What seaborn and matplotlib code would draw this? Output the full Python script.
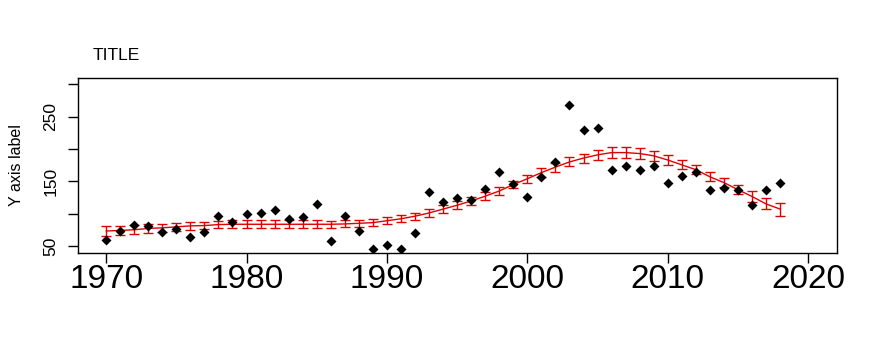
import matplotlib
matplotlib.use("Agg")
import matplotlib.pyplot as plt
import seaborn as sns
import pandas as pd

years = list(range(1970, 2019))

observed = [59, 73, 83, 81, 71, 76, 64, 72, 97, 87,
            100, 101, 106, 92, 94, 115, 58, 97, 73, 45,
            51, 45, 70, 134, 118, 124, 121, 138, 165, 146,
            126, 157, 180, 268, 229, 232, 167, 173, 167, 173,
            148, 159, 164, 136, 139, 136, 113, 136, 148]

fitted = [73, 74, 75, 77, 78, 79.5, 81, 81.5, 83, 83.5,
          83.5, 83.5, 83.5, 83.5, 83.5, 83.5, 83.5, 84, 85, 86,
          89, 92, 96, 101, 107, 113, 119.5, 127, 135, 145,
          154, 163.5, 172, 180, 186, 191, 194.5, 194.5, 193, 189.5,
          183, 175.5, 168, 157, 148, 137, 126.5, 115, 107]

half_width = [8, 7.5, 7, 6.5, 6, 6, 6, 6, 6, 6,
              6, 6, 6, 6, 6, 6, 5.5, 5.5, 5.5, 5.5,
              5.5, 5.5, 5.5, 5.5, 6, 6, 6, 6, 6, 6,
              6.5, 6.5, 7, 7, 7, 7.5, 8, 8, 8, 7.5,
              7, 7, 7, 7, 7, 7, 8, 8.5, 10]

df = pd.DataFrame({"year": years, "observed": observed,
                   "fitted": fitted, "hw": half_width})

sns.set_style("white")
plt.rcParams["font.family"] = ["Liberation Sans", "DejaVu Sans"]
plt.rcParams["text.color"] = "black"
plt.rcParams["xtick.color"] = "black"
plt.rcParams["ytick.color"] = "black"
plt.rcParams["axes.labelcolor"] = "black"

fig = plt.figure(figsize=(8.77, 3.51), dpi=100)
ax = fig.add_axes([78 / 877, 1 - 253 / 351, (837 - 78) / 877, (253 - 78) / 351])

ax.errorbar(df["year"], df["fitted"], yerr=df["hw"], fmt="none",
            ecolor="#e00000", elinewidth=1, capsize=3.3, capthick=1, zorder=2)
sns.lineplot(data=df, x="year", y="fitted", color="#e00000", linewidth=1, ax=ax, zorder=2)
sns.scatterplot(data=df, x="year", y="observed", marker="D", s=26, color="black",
                edgecolor="black", linewidth=0, ax=ax, zorder=3)

ax.set_xlim(1968.0, 2022.05)
ax.set_ylim(39, 310)
ax.set_xticks([1970, 1980, 1990, 2000, 2010, 2020])
ax.set_xticklabels(["1970", "1980", "1990", "2000", "2010", "2020"], fontsize=24)
ax.set_yticks([50, 100, 150, 200, 250, 300])
ax.set_yticklabels(["50", "", "150", "", "250", ""], fontsize=12.5, rotation=90, va="center")
ax.tick_params(axis="both", direction="out", length=7, width=1, color="black",
               bottom=True, left=True)
ax.tick_params(axis="x", pad=1)
ax.tick_params(axis="y", pad=7)
for s in ax.spines.values():
    s.set_color("black")
    s.set_linewidth(1)
ax.set_xlabel("")
ax.set_ylabel("Y axis label", fontsize=11.5, labelpad=14)

fig.text(93 / 877, 1 - 60 / 351, "TITLE", fontsize=12.5, ha="left", va="baseline")

fig.savefig("out.png", dpi=100)
